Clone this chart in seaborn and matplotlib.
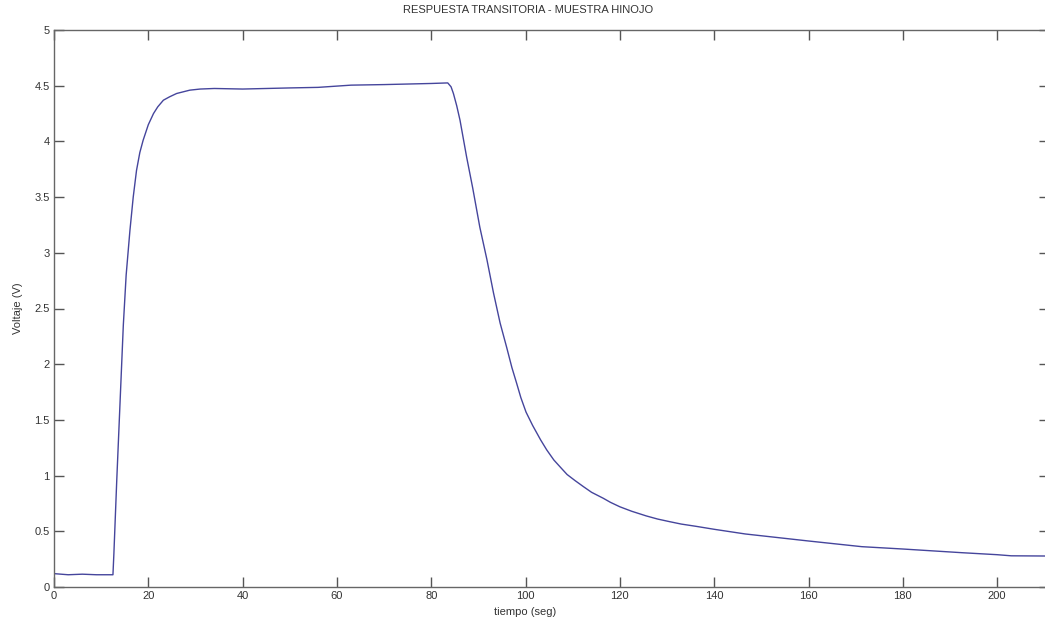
import numpy as np
import pandas as pd
import seaborn as sb
import matplotlib.pyplot as plt

# valores (tiempo en seg, voltaje en V)
tiempo = [0, 3, 6, 9, 12.5,
          12.7, 13.3, 14.0, 14.7, 15.3, 16.1, 16.8, 17.5, 18.2, 18.9, 20.0,
          21.1, 22.0, 23.2, 24.5, 26.0, 28.8, 31, 34,
          40, 50, 56, 63, 70, 75, 80, 83.5,
          84.2, 84.7, 85.4, 86.1, 87.5, 88.8, 90.3, 91.8, 93.2, 94.6, 96.0, 97.1,
          98.1, 99, 100.1, 101.5, 103.2, 104.5, 106, 107.5, 108.8, 110.5, 112.3,
          114, 116.5, 118, 120, 122.5, 125.6, 128, 130.5, 133,
          136.1, 140, 146.6, 160, 171.3, 180, 192.5, 200, 203, 211]
voltaje = [0.12, 0.11, 0.115, 0.11, 0.11,
           0.3, 0.95, 1.65, 2.35, 2.8, 3.2, 3.5, 3.74, 3.9, 4.01, 4.15,
           4.25, 4.31, 4.37, 4.40, 4.43, 4.46, 4.47, 4.475,
           4.47, 4.48, 4.485, 4.505, 4.51, 4.515, 4.52, 4.525,
           4.49, 4.43, 4.32, 4.19, 3.86, 3.58, 3.23, 2.94, 2.64, 2.37, 2.15, 1.97,
           1.83, 1.70, 1.57, 1.45, 1.32, 1.23, 1.14, 1.07, 1.01, 0.955, 0.90,
           0.85, 0.796, 0.76, 0.72, 0.68, 0.638, 0.61, 0.587, 0.565,
           0.545, 0.518, 0.476, 0.413, 0.362, 0.341, 0.308, 0.29, 0.28, 0.278]

xticks = [0, 20, 40, 60, 80, 100, 120, 140, 160, 180, 200]
yticks = [0, 0.5, 1, 1.5, 2, 2.5, 3, 3.5, 4, 4.5, 5]
ytick_labels = ['0', '0.5', '1', '1.5', '2', '2.5', '3', '3.5', '4', '4.5', '5']

df = pd.DataFrame({'tiempo': tiempo, 'voltaje': voltaje})

sb.set_style("ticks")
plt.rcParams['font.family'] = ['Liberation Sans', 'DejaVu Sans']

W, H = 1045, 623
fig = plt.figure(figsize=(W / 100, H / 100), dpi=100)
left, right, bottom, top = 54, 1049, 587, 30
ax = fig.add_axes([left / W, 1 - bottom / H, (right - left) / W, (bottom - top) / H])

sb.lineplot(data=df, x='tiempo', y='voltaje', ax=ax, color='#45459c', linewidth=1.0)

ax.set_xlim(0, 211)
ax.set_ylim(0, 5)
ax.set_xticks(xticks)
ax.set_yticks(yticks)
ax.set_yticklabels(ytick_labels)
ax.tick_params(direction='in', length=7, width=1.0, colors='#555555', labelcolor='#333333',
               labelsize=8, top=True, right=True, pad=3)
for s in ax.spines.values():
    s.set_color('#666666')
    s.set_linewidth(1.0)

ax.set_xlabel('')
ax.set_ylabel('')
fig.text(528 / W, 1 - 10 / H, 'RESPUESTA TRANSITORIA - MUESTRA HINOJO', ha='center', va='center',
         fontsize=8, color='#333333')
fig.text(525 / W, 1 - 612 / H, 'tiempo (seg)', ha='center', va='center', fontsize=8, color='#333333')
fig.text(18 / W, 1 - 308 / H, 'Voltaje (V)', ha='center', va='center', rotation=90,
         fontsize=8, color='#333333')

fig.savefig('out.png', dpi=100)
